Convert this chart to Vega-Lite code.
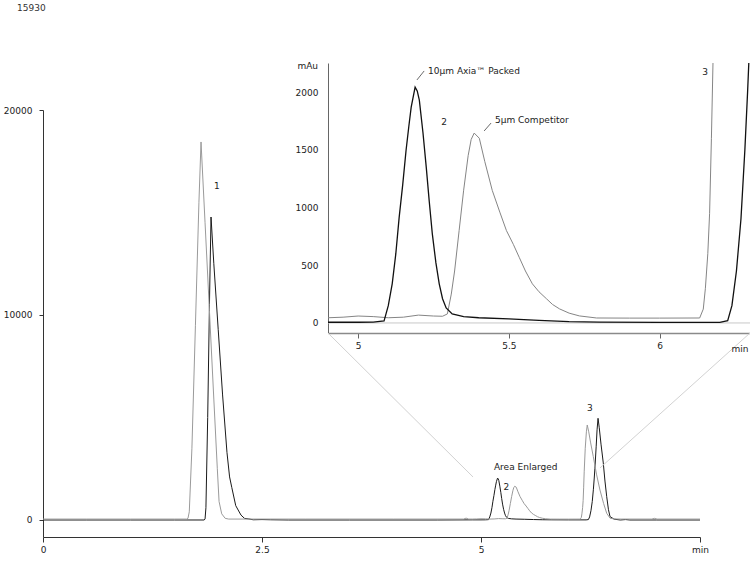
{
  "$schema": "https://vega.github.io/schema/vega-lite/v6.json",
  "width": 707,
  "height": 474,
  "autosize": {"type": "none"},
  "padding": {"left": 43, "top": 63, "right": 0, "bottom": 24},
  "background": "white",
  "title": {"text": "15930", "anchor": "start", "frame": "group", "orient": "top", "offset": 49, "dx": -26, "fontSize": 9, "fontWeight": "normal", "font": "DejaVu Sans", "color": "#333"},
  "config": {
    "view": {"stroke": null},
    "axis": {"grid": false, "labelFont": "DejaVu Sans", "labelFontSize": 9, "labelColor": "#222", "domainColor": "#333", "tickColor": "#333", "labelFlush": false, "labelOverlap": false},
    "text": {"font": "DejaVu Sans", "fontSize": 9, "color": "#222"}
  },
  "datasets": {
    "axia": [
      {"t":0,"v":0},{"t":0.5,"v":0},{"t":1.0,"v":0},{"t":1.5,"v":0},{"t":1.84,"v":0},{"t":1.85,"v":50},{"t":1.86,"v":600},{"t":1.88,"v":5000},{"t":1.90,"v":10500},{"t":1.918,"v":14780},{"t":1.95,"v":12500},{"t":2.0,"v":9300},{"t":2.05,"v":6100},{"t":2.10,"v":3300},{"t":2.13,"v":2100},{"t":2.155,"v":1590},{"t":2.20,"v":700},{"t":2.26,"v":240},{"t":2.30,"v":80},{"t":2.35,"v":50},{"t":2.40,"v":10},{"t":2.5,"v":20},{"t":2.6,"v":10},{"t":2.8,"v":0},{"t":3.5,"v":0},{"t":4.5,"v":0},
      {"t":4.9,"v":6},{"t":5.0,"v":6},{"t":5.05,"v":8},{"t":5.086,"v":17},{"t":5.10,"v":150},{"t":5.113,"v":339},{"t":5.125,"v":600},{"t":5.136,"v":913},{"t":5.148,"v":1200},{"t":5.159,"v":1496},{"t":5.168,"v":1700},{"t":5.176,"v":1870},{"t":5.189,"v":2043},{"t":5.196,"v":2010},{"t":5.203,"v":1930},{"t":5.215,"v":1650},{"t":5.226,"v":1348},{"t":5.236,"v":1050},{"t":5.246,"v":774},{"t":5.258,"v":520},{"t":5.269,"v":339},{"t":5.28,"v":210},{"t":5.292,"v":130},{"t":5.312,"v":78},{"t":5.35,"v":55},{"t":5.40,"v":45},{"t":5.50,"v":35},{"t":5.60,"v":22},{"t":5.70,"v":12},{"t":5.80,"v":8},{"t":6.0,"v":5},{"t":6.20,"v":5},{"t":6.226,"v":20},{"t":6.24,"v":150},{"t":6.255,"v":450},{"t":6.27,"v":900},{"t":6.283,"v":1500},{"t":6.292,"v":2000},{"t":6.30,"v":2500},{"t":6.315,"v":3600},{"t":6.325,"v":4400},{"t":6.336,"v":4960},{"t":6.35,"v":4500},{"t":6.37,"v":3700},{"t":6.396,"v":2780},{"t":6.415,"v":1900},{"t":6.435,"v":1137},{"t":6.455,"v":500},{"t":6.473,"v":161},{"t":6.52,"v":40},{"t":6.59,"v":0},{"t":6.65,"v":20},{"t":6.7,"v":0},{"t":7.0,"v":0},{"t":7.5,"v":0}
    ],
    "comp": [
      {"t":0,"v":45},{"t":0.5,"v":45},{"t":1.0,"v":45},{"t":1.5,"v":45},{"t":1.64,"v":45},{"t":1.655,"v":80},{"t":1.67,"v":400},{"t":1.70,"v":3500},{"t":1.74,"v":9500},{"t":1.78,"v":15500},{"t":1.804,"v":18440},{"t":1.85,"v":14500},{"t":1.90,"v":10200},{"t":1.95,"v":5900},{"t":1.99,"v":2500},{"t":2.01,"v":900},{"t":2.04,"v":300},{"t":2.08,"v":80},{"t":2.12,"v":45},{"t":3.0,"v":45},{"t":4.0,"v":45},{"t":4.8,"v":45},{"t":4.83,"v":90},{"t":4.86,"v":45},
      {"t":4.9,"v":45},{"t":4.95,"v":50},{"t":5.0,"v":60},{"t":5.05,"v":55},{"t":5.1,"v":45},{"t":5.15,"v":50},{"t":5.2,"v":68},{"t":5.25,"v":60},{"t":5.28,"v":58},{"t":5.296,"v":78},{"t":5.309,"v":250},{"t":5.32,"v":450},{"t":5.335,"v":800},{"t":5.35,"v":1150},{"t":5.365,"v":1450},{"t":5.375,"v":1590},{"t":5.385,"v":1645},{"t":5.402,"v":1600},{"t":5.42,"v":1400},{"t":5.445,"v":1148},{"t":5.47,"v":960},{"t":5.492,"v":800},{"t":5.515,"v":680},{"t":5.535,"v":565},{"t":5.555,"v":450},{"t":5.578,"v":339},{"t":5.60,"v":270},{"t":5.625,"v":209},{"t":5.645,"v":160},{"t":5.668,"v":122},{"t":5.70,"v":85},{"t":5.734,"v":61},{"t":5.791,"v":43},{"t":5.9,"v":42},{"t":6.0,"v":42},{"t":6.133,"v":43},{"t":6.145,"v":120},{"t":6.152,"v":300},{"t":6.16,"v":600},{"t":6.166,"v":950},{"t":6.172,"v":1600},{"t":6.178,"v":2350},{"t":6.19,"v":3500},{"t":6.203,"v":4300},{"t":6.213,"v":4634},{"t":6.23,"v":4300},{"t":6.25,"v":3800},{"t":6.282,"v":3088},{"t":6.32,"v":2200},{"t":6.358,"v":1463},{"t":6.40,"v":800},{"t":6.435,"v":327},{"t":6.473,"v":90},{"t":6.52,"v":50},{"t":6.6,"v":45},{"t":6.95,"v":45},{"t":6.98,"v":80},{"t":7.01,"v":45},{"t":7.5,"v":45}
    ]
  },
  "resolve": {"scale": {"x": "independent", "y": "independent"}, "axis": {"x": "independent", "y": "independent"}},
  "layer": [
    {
      "encoding": {
        "x": {"field": "t", "type": "quantitative", "scale": {"domain": [0, 7.5], "range": [0, 657], "nice": false, "zero": false},
              "axis": {"title": null, "orient": "bottom", "values": [0, 2.5, 5, 7.5], "format": ".2~f", "labelExpr": "datum.value == 7.5 ? 'min' : datum.label", "tickSize": 5, "labelPadding": 3}},
        "y": {"field": "v", "type": "quantitative", "scale": {"domain": [-830, 20000], "range": [474, 47], "nice": false, "zero": false},
              "axis": {"title": null, "orient": "left", "values": [0, 10000, 20000], "format": "d", "tickSize": 4, "labelPadding": 7}}
      },
      "layer": [
        {
          "data": {"name": "axia"},
          "mark": {"type": "line", "color": "#1a1a1a", "strokeWidth": 1}
        },
        {
          "data": {"name": "comp"},
          "mark": {"type": "line", "color": "#9a9a9a", "strokeWidth": 1}
        },
        {
          "data": {"values": [{"t": 3.253, "v": 9122, "t2": 4.909, "v2": 2098}, {"t": 8.071, "v": 9122, "t2": 6.358, "v2": 2537}]},
          "mark": {"type": "rule", "color": "#d2d2d2", "strokeWidth": 1},
          "encoding": {"x2": {"field": "t2"}, "y2": {"field": "v2"}}
        },
        {
          "data": {"values": [{"t": 1.986, "v": 16290, "label": "1"}, {"t": 5.29, "v": 1610, "label": "2"}, {"t": 6.244, "v": 5463, "label": "3"}]},
          "mark": {"type": "text", "align": "center", "baseline": "middle"},
          "encoding": {"text": {"field": "label"}}
        },
        {
          "data": {"values": [{"t": 5.148, "v": 2585, "label": "Area Enlarged"}]},
          "mark": {"type": "text", "align": "left", "baseline": "middle"},
          "encoding": {"text": {"field": "label"}}
        }
      ]
    },
    {
      "encoding": {
        "x": {"field": "t", "type": "quantitative", "scale": {"domain": [4.9, 6.3], "range": [285, 707], "nice": false, "zero": false},
              "axis": {"title": null, "orient": "bottom", "offset": -204, "values": [5, 5.5, 6], "format": ".1~f", "tickSize": 5, "labelPadding": 3, "domainColor": "#8a8a8a", "domainWidth": 1.5, "tickColor": "#666"}},
        "y": {"field": "v", "type": "quantitative", "scale": {"domain": [-87, 2252], "range": [270, 0], "nice": false, "zero": false},
              "axis": {"title": null, "orient": "left", "offset": -285, "values": [0, 500, 1000, 1500, 2000], "format": "d", "ticks": false, "labelPadding": 10, "domainColor": "#666"}}
      },
      "layer": [
        {
          "data": {"values": [{"t": 4.9, "t2": 6.3, "v": 0}]},
          "mark": {"type": "rule", "color": "#c8c8c8", "strokeWidth": 1},
          "encoding": {"x2": {"field": "t2"}}
        },
        {
          "data": {"name": "comp"},
          "transform": [{"filter": "datum.t >= 4.89 && datum.t <= 6.31"}],
          "mark": {"type": "line", "color": "#858585", "strokeWidth": 1, "clip": true}
        },
        {
          "data": {"name": "axia"},
          "transform": [{"filter": "datum.t >= 4.89 && datum.t <= 6.31"}],
          "mark": {"type": "line", "color": "#111111", "strokeWidth": 1.3, "clip": true}
        },
        {
          "data": {"values": [{"t": 5.195, "v": 2105, "t2": 5.219, "v2": 2183}, {"t": 5.418, "v": 1663, "t2": 5.441, "v2": 1732}]},
          "mark": {"type": "rule", "color": "#444", "strokeWidth": 0.8},
          "encoding": {"x2": {"field": "t2"}, "y2": {"field": "v2"}}
        },
        {
          "data": {"values": [{"t": 4.867, "v": 2226, "label": "mAu"}]},
          "mark": {"type": "text", "align": "right", "baseline": "middle"},
          "encoding": {"text": {"field": "label"}}
        },
        {
          "data": {"values": [{"t": 5.232, "v": 2185, "label": "10µm Axia™ Packed"}, {"t": 5.454, "v": 1758, "label": "5µm Competitor"}]},
          "mark": {"type": "text", "align": "left", "baseline": "middle"},
          "encoding": {"text": {"field": "label"}}
        },
        {
          "data": {"values": [{"t": 5.285, "v": 1741, "label": "2"}, {"t": 6.151, "v": 2174, "label": "3"}, {"t": 6.267, "v": -225, "label": "min"}]},
          "mark": {"type": "text", "align": "center", "baseline": "middle"},
          "encoding": {"text": {"field": "label"}}
        }
      ]
    }
  ]
}
